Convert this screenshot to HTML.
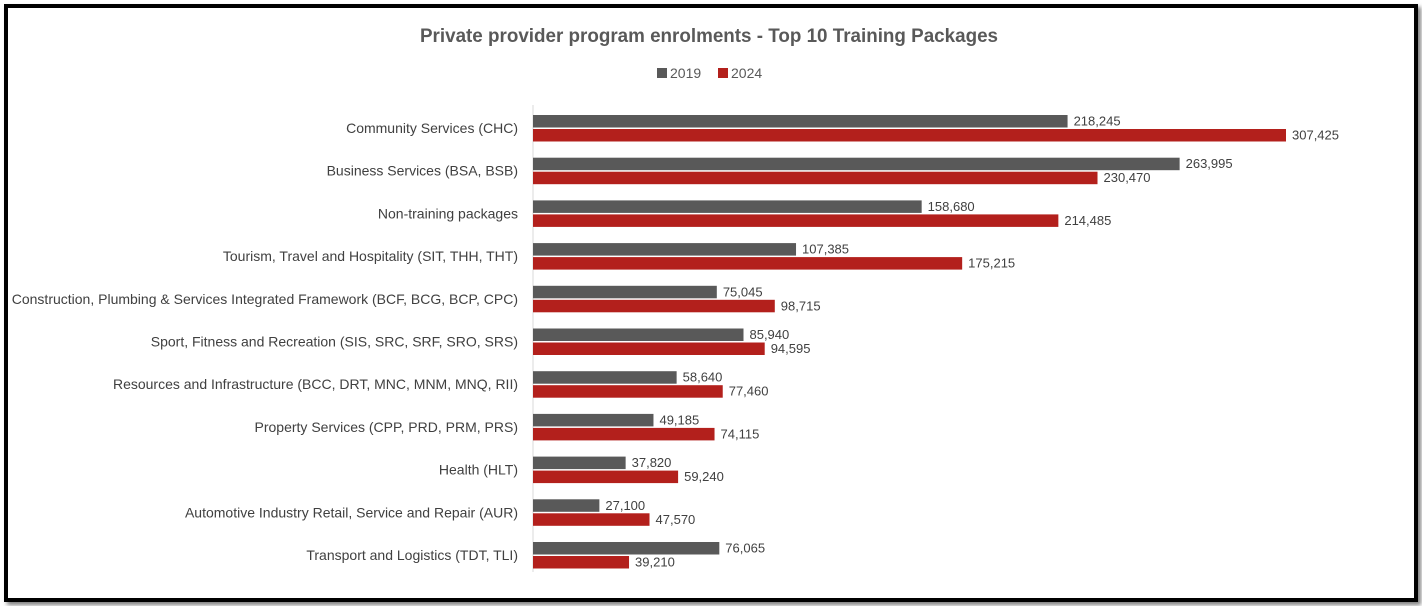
<!DOCTYPE html>
<html><head><meta charset="utf-8"><style>
body{margin:0;width:1422px;height:606px;background:#fff;overflow:hidden;font-family:"Liberation Sans",sans-serif}
#frame{position:absolute;left:4px;top:4px;width:1406px;height:590px;border:4px solid #000;box-shadow:3px 3px 4px rgba(0,0,0,.5)}
</style></head><body>
<div id="frame"></div>
<svg id="chart" width="1422" height="606" style="position:absolute;left:0;top:0">
<text x="709" y="42" text-anchor="middle" font-size="19" font-weight="bold" fill="#595959" textLength="578" lengthAdjust="spacingAndGlyphs">Private provider program enrolments - Top 10 Training Packages</text>
<g>
<rect x="657" y="68" width="10" height="10" fill="#595959"/>
<text x="670" y="78" font-size="14" fill="#595959">2019</text>
<rect x="718" y="68" width="10" height="10" fill="#b3201c"/>
<text x="731" y="78" font-size="14" fill="#595959">2024</text>
</g>
<line x1="533" y1="105" x2="533" y2="572" stroke="#d9d9d9"/>
<g id="bars"></g>
</svg>
<script>
const categories=["Community Services (CHC)","Business Services (BSA, BSB)","Non-training packages","Tourism, Travel and Hospitality (SIT, THH, THT)","Construction, Plumbing & Services Integrated Framework (BCF, BCG, BCP, CPC)","Sport, Fitness and Recreation (SIS, SRC, SRF, SRO, SRS)","Resources and Infrastructure (BCC, DRT, MNC, MNM, MNQ, RII)","Property Services (CPP, PRD, PRM, PRS)","Health (HLT)","Automotive Industry Retail, Service and Repair (AUR)","Transport and Logistics (TDT, TLI)"];
const values2019=[218245,263995,158680,107385,75045,85940,58640,49185,37820,27100,76065];
const values2024=[307425,230470,214485,175215,98715,94595,77460,74115,59240,47570,39210];
const x0=533,scale=753/307425,rowTop=115,pitch=42.7,barH=12.5;
const xs=v=>x0+v*scale;
const g=document.getElementById('bars');
const NS='http://www.w3.org/2000/svg';
function mk(t,a){const e=document.createElementNS(NS,t);for(const k in a)e.setAttribute(k,a[k]);return e;}
categories.forEach((c,i)=>{
  const y=rowTop+i*pitch;
  const lab=mk('text',{x:518,y:y+18,'text-anchor':'end','font-size':'14',fill:'#404040'});
  lab.textContent=c;
  
  
  g.appendChild(lab);
  [[values2019[i],'#595959',y,'2019'],[values2024[i],'#b3201c',y+14,'2024']].forEach(([v,col,yy,s])=>{
    const r=mk('rect',{x:x0,y:yy,width:xs(v)-x0,height:barH,fill:col});
    
    
    g.appendChild(r);
    const t=mk('text',{x:xs(v)+6,y:yy+10.5,'font-size':'13',fill:'#404040'});
    t.textContent=v.toLocaleString('en-US');
    
    
    g.appendChild(t);
  });
});
</script>
</body></html>
